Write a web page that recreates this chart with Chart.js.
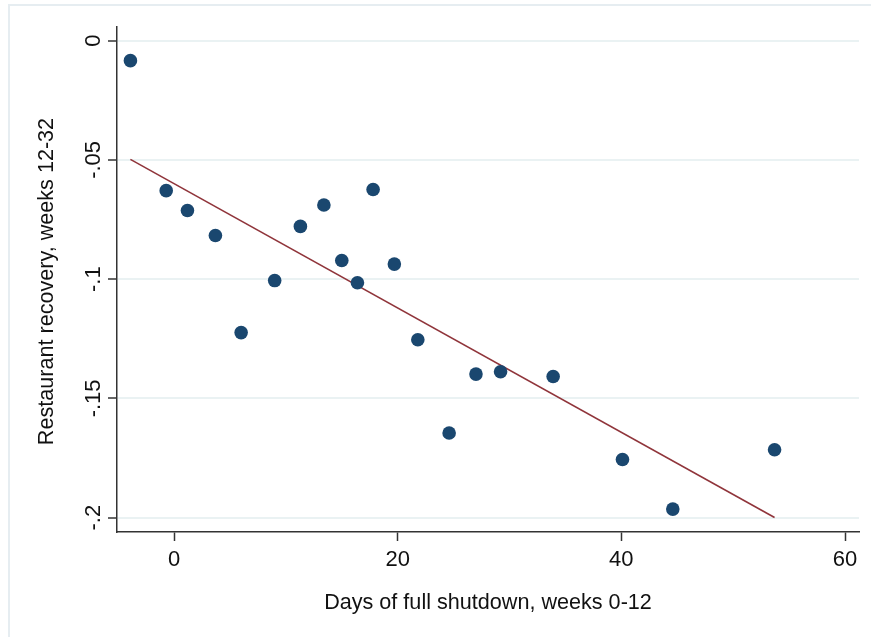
<!DOCTYPE html>
<html>
<head>
<meta charset="utf-8">
<script src="https://cdn.jsdelivr.net/npm/chart.js@4/dist/chart.umd.min.js"></script>
<style>
  html, body { margin: 0; padding: 0; background: #fff; overflow: hidden; }
  #wrap { position: relative; width: 871px; height: 637px; }
</style>
</head>
<body>
<div id="wrap"><canvas id="c"></canvas></div>
<script>
// Data
const shutdownDays = [-3.9, -0.7, 1.2, 3.7, 6.0, 9.0, 11.3, 13.4, 15.0, 16.4, 17.8, 19.7, 21.8, 24.6, 27.0, 29.2, 33.9, 40.1, 44.6, 53.7];
const recovery = [-0.0084, -0.0629, -0.0712, -0.0817, -0.1224, -0.1006, -0.0779, -0.0689, -0.0922, -0.1015, -0.0624, -0.0937, -0.1254, -0.1645, -0.1398, -0.1388, -0.1408, -0.1756, -0.1964, -0.1715];
const fitX = [-3.9, 53.7];
const fitY = [-0.0498, -0.1999];
const xTicks = [0, 20, 40, 60];
const yTicks = [0, -0.05, -0.1, -0.15, -0.2];
const yTickLabels = ["0", "-.05", "-.1", "-.15", "-.2"];
const xTitle = "Days of full shutdown, weeks 0-12";
const yTitle = "Restaurant recovery, weeks 12-32";

const FONT = '"Liberation Sans", Arial, sans-serif';
const TEXT = '#111';
const AXIS = '#333';

const labelsPlugin = {
  id: 'labels',
  beforeDraw(chart) {
    const ctx = chart.ctx;
    ctx.save();
    ctx.fillStyle = '#fff';
    ctx.fillRect(0, 0, chart.width, chart.height);
    ctx.strokeStyle = '#e6edf1';
    ctx.lineWidth = 2;
    ctx.strokeRect(9, 5, 2000, 2000);
    ctx.restore();
  },
  afterDraw(chart) {
    const ctx = chart.ctx;
    const xs = chart.scales.x, ys = chart.scales.y;
    ctx.save();
    ctx.fillStyle = TEXT;
    // y tick labels (rotated)
    ctx.font = '22px ' + FONT;
    ctx.textAlign = 'center';
    ctx.textBaseline = 'alphabetic';
    yTicks.forEach((v, i) => {
      const py = ys.getPixelForValue(v);
      ctx.save();
      ctx.translate(100, py);
      ctx.rotate(-Math.PI / 2);
      ctx.fillText(yTickLabels[i], 0, 0);
      ctx.restore();
    });
    // x tick labels
    xTicks.forEach(v => {
      const px = xs.getPixelForValue(v);
      ctx.fillText(String(v), px, 566);
    });
    // titles
    ctx.font = '21.6px ' + FONT;
    ctx.fillText(xTitle, (xs.left + xs.right) / 2, 609);
    ctx.save();
    ctx.translate(53, (ys.top + ys.bottom) / 2 + 2);
    ctx.rotate(-Math.PI / 2);
    ctx.fillText(yTitle, 0, 0);
    ctx.restore();
    ctx.restore();
  }
};

new Chart(document.getElementById('c'), {
  type: 'scatter',
  data: {
    datasets: [
      {
        type: 'line',
        data: fitX.map((x, i) => ({ x: x, y: fitY[i] })),
        borderColor: '#90353b',
        borderWidth: 1.6,
        pointRadius: 0,
        fill: false,
        order: 2
      },
      {
        data: shutdownDays.map((x, i) => ({ x: x, y: recovery[i] })),
        backgroundColor: '#1a476f',
        borderColor: '#1a476f',
        borderWidth: 0,
        pointRadius: 6.8,
        order: 1
      }
    ]
  },
  options: {
    responsive: true,
    maintainAspectRatio: false,
    animation: false,
    layout: { padding: { left: 0, top: 27, right: 12, bottom: 0 } },
    plugins: { legend: { display: false }, tooltip: { enabled: false } },
    scales: {
      x: {
        type: 'linear',
        min: -5.1,
        max: 61.25,
        afterBuildTicks: s => { s.ticks = xTicks.map(v => ({ value: v })); },
        afterFit: s => { s.height = 105; },
        ticks: { display: false },
        grid: { drawOnChartArea: false, drawTicks: true, tickLength: 9, tickColor: AXIS, tickWidth: 1.5 },
        border: { color: AXIS, width: 1.5 }
      },
      y: {
        type: 'linear',
        min: -0.206,
        max: 0.0057,
        afterBuildTicks: s => { s.ticks = yTicks.map(v => ({ value: v })); },
        afterFit: s => { s.width = 117; },
        ticks: { display: false },
        grid: { color: '#eaf2f3', lineWidth: 2, drawTicks: true, tickLength: 9, tickColor: AXIS, tickWidth: 1.5 },
        border: { color: AXIS, width: 1.5 }
      }
    }
  },
  plugins: [labelsPlugin]
});
</script>
</body>
</html>
